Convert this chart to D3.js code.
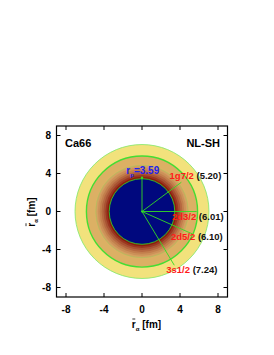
<!DOCTYPE html>
<html><head><meta charset="utf-8">
<script src="https://cdn.jsdelivr.net/npm/d3@7"></script>
<style>
html,body{margin:0;padding:0;background:#fff;}
text{font-family:"Liberation Sans",Arial,sans-serif;font-weight:bold;}
</style></head>
<body><svg id="c" width="274" height="355"></svg>
<script>
// ---- data ----
const ticks = [-8, -4, 0, 4, 8];
const outerRings = [ // radius (fm) of filled zones, outer to inner
  {r: 7.05, fill: "#f2e27c", stroke: "#7ee86a", sw: 0.8},
  {r: 5.85, fill: "#dcb064", stroke: "#44dd33", sw: 1.4},
  {r: 4.87, fill: "#d4a060", stroke: "#9ccf5a", sw: 0.5}
];
const bandRadii = [4.65, 4.45, 4.25, 4.05, 3.85, 3.65];
const bandColors = ["#cc9058", "#c27e4c", "#b66840", "#a85232", "#9a3620", "#8c1c0c"];
const protonRadius = 3.45;
const protonLabel = "3.59";
const states = ["1g7/2", "2d3/2", "2d5/2", "3s1/2"];
const stateRadii = ["5.20", "6.01", "6.10", "7.24"];
const spokeAngle = [36.6, 0, -24, -59];   // degrees
const spokeLength = [5.16, 5.75, 5.8, 6.6]; // fm, as drawn
const labelPos = [[2.9, 3.8], [3.15, -0.55], [3.05, -2.65], [2.55, -6.15]]; // fm (label anchor)
const nucleus = "Ca66", model = "NL-SH";

// ---- chart ----
const svg = d3.select("#c");
const x = d3.scaleLinear().domain([-9, 9]).range([56.5, 227.5]);
const y = d3.scaleLinear().domain([-9, 9]).range([297, 126]);
const k = x(1) - x(0);
const cx = x(0), cy = y(0);
const green = "#33dd22";

const g = svg.append("g");
outerRings.forEach(d => {
  g.append("circle").attr("cx", cx).attr("cy", cy).attr("r", d.r * k)
    .attr("fill", d.fill).attr("stroke", d.stroke).attr("stroke-width", d.sw);
});
bandRadii.forEach((r, i) => {
  g.append("circle").attr("cx", cx).attr("cy", cy).attr("r", r * k).attr("fill", bandColors[i]);
});
g.append("circle").attr("cx", cx).attr("cy", cy).attr("r", protonRadius * k)
  .attr("fill", "#00087e").attr("stroke", green).attr("stroke-width", 0.8);

// spokes
states.forEach((s, i) => {
  const a = spokeAngle[i] * Math.PI / 180;
  g.append("line").attr("x1", cx).attr("y1", cy)
    .attr("x2", x(spokeLength[i] * Math.cos(a))).attr("y2", y(spokeLength[i] * Math.sin(a)))
    .attr("stroke", green).attr("stroke-width", 0.9);
});
// proton radius spoke
g.append("line").attr("x1", cx).attr("y1", cy).attr("x2", cx).attr("y2", y(protonRadius + 0.1))
  .attr("stroke", green).attr("stroke-width", 0.9);
g.append("circle").attr("cx", cx).attr("cy", y(protonRadius + 0.1)).attr("r", 1.2).attr("fill", green);
g.append("circle").attr("cx", cx).attr("cy", cy).attr("r", 1).attr("fill", green);

// labels
states.forEach((s, i) => {
  const t = g.append("text").attr("x", x(labelPos[i][0])).attr("y", y(labelPos[i][1]))
    .attr("font-size", 9.5).attr("dy", "0.35em");
  t.append("tspan").attr("fill", "#ff1a1a").text(s);
  t.append("tspan").attr("fill", "#111").text(" (" + stateRadii[i] + ")");
});
const rp = g.append("text").attr("x", x(-1.65)).attr("y", y(4.35)).attr("font-size", 10)
  .attr("fill", "#2222ee").attr("dy", "0.35em");
rp.append("tspan").text("r");
rp.append("tspan").attr("font-size", 6).attr("dy", 3).text("p");
rp.append("tspan").attr("dy", -3).text("=" + protonLabel);

// frame
svg.append("rect").attr("x", x(-9)).attr("y", y(9)).attr("width", x(9) - x(-9)).attr("height", y(-9) - y(9))
  .attr("fill", "none").attr("stroke", "#000").attr("stroke-width", 1.2);

// axes (inward ticks)
const tl = 4;
const ax = svg.append("g");
ticks.forEach(t => {
  ax.append("line").attr("x1", x(t)).attr("x2", x(t)).attr("y1", y(-9)).attr("y2", y(-9) - tl).attr("stroke", "#000");
  ax.append("line").attr("x1", x(t)).attr("x2", x(t)).attr("y1", y(9)).attr("y2", y(9) + tl).attr("stroke", "#000");
  ax.append("line").attr("y1", y(t)).attr("y2", y(t)).attr("x1", x(-9)).attr("x2", x(-9) + tl).attr("stroke", "#000");
  ax.append("line").attr("y1", y(t)).attr("y2", y(t)).attr("x1", x(9)).attr("x2", x(9) - tl).attr("stroke", "#000");
  ax.append("text").attr("x", x(t)).attr("y", 309).attr("dy", "0.35em").attr("text-anchor", "middle")
    .attr("font-size", 10).text(t);
  ax.append("text").attr("x", 51).attr("y", y(t)).attr("dy", "0.35em").attr("text-anchor", "end")
    .attr("font-size", 10).text(t);
});

// axis titles with overbar on r
function rTitle(parent, tx, ty) {
  const t = parent.append("text").attr("x", tx).attr("y", ty).attr("dy", "0.35em")
    .attr("text-anchor", "middle").attr("font-size", 10);
  t.append("tspan").text("r");
  t.append("tspan").attr("font-size", 6).attr("dy", 3).text("α");
  t.append("tspan").attr("dy", -3).text(" [fm]");
  const e = t.node().getExtentOfChar(0);
  parent.append("line").attr("x1", e.x + 0.5).attr("x2", e.x + e.width - 0.5)
    .attr("y1", e.y + 0.5).attr("y2", e.y + 0.5).attr("stroke", "#000").attr("stroke-width", 0.8);
}
rTitle(svg, 146.5, 324);
rTitle(svg.append("g").attr("transform", "translate(31,212) rotate(-90)"), 0, 0);

svg.append("text").attr("x", 65).attr("y", 143).attr("dy", "0.35em").attr("font-size", 11).text(nucleus);
svg.append("text").attr("x", 220).attr("y", 143).attr("dy", "0.35em").attr("font-size", 11)
  .attr("text-anchor", "end").text(model);
</script></body></html>
